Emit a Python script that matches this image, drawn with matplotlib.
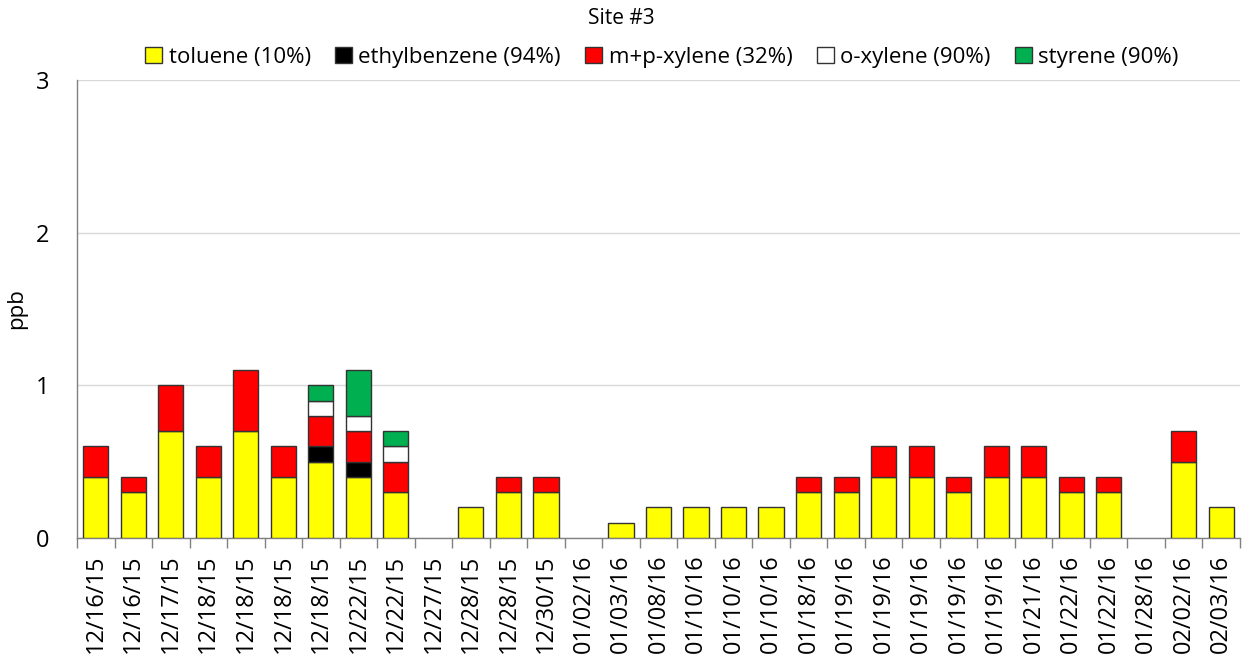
import matplotlib
matplotlib.use("Agg")
import matplotlib.pyplot as plt
import numpy as np

dates = ["12/16/15", "12/16/15", "12/17/15", "12/18/15", "12/18/15", "12/18/15", "12/18/15",
         "12/22/15", "12/22/15", "12/27/15", "12/28/15", "12/28/15", "12/30/15", "01/02/16",
         "01/03/16", "01/08/16", "01/10/16", "01/10/16", "01/10/16", "01/18/16", "01/19/16",
         "01/19/16", "01/19/16", "01/19/16", "01/19/16", "01/21/16", "01/22/16", "01/22/16",
         "01/28/16", "02/02/16", "02/03/16"]
toluene = [0.4, 0.3, 0.7, 0.4, 0.7, 0.4, 0.5, 0.4, 0.3, 0, 0.2, 0.3, 0.3, 0, 0.1, 0.2,
           0.2, 0.2, 0.2, 0.3, 0.3, 0.4, 0.4, 0.3, 0.4, 0.4, 0.3, 0.3, 0, 0.5, 0.2]
ethylbenzene = [0, 0, 0, 0, 0, 0, 0.1, 0.1, 0, 0, 0, 0, 0, 0, 0, 0,
                0, 0, 0, 0, 0, 0, 0, 0, 0, 0, 0, 0, 0, 0, 0]
mp_xylene = [0.2, 0.1, 0.3, 0.2, 0.4, 0.2, 0.2, 0.2, 0.2, 0, 0, 0.1, 0.1, 0, 0, 0,
             0, 0, 0, 0.1, 0.1, 0.2, 0.2, 0.1, 0.2, 0.2, 0.1, 0.1, 0, 0.2, 0]
o_xylene = [0, 0, 0, 0, 0, 0, 0.1, 0.1, 0.1, 0, 0, 0, 0, 0, 0, 0,
            0, 0, 0, 0, 0, 0, 0, 0, 0, 0, 0, 0, 0, 0, 0]
styrene = [0, 0, 0, 0, 0, 0, 0.1, 0.3, 0.1, 0, 0, 0, 0, 0, 0, 0,
           0, 0, 0, 0, 0, 0, 0, 0, 0, 0, 0, 0, 0, 0, 0]

series = [
    ("toluene (10%)", toluene, "#FFFF00"),
    ("ethylbenzene (94%)", ethylbenzene, "#000000"),
    ("m+p-xylene (32%)", mp_xylene, "#FF0000"),
    ("o-xylene (90%)", o_xylene, "#FFFFFF"),
    ("styrene (90%)", styrene, "#00B050"),
]

plt.rcParams['font.family'] = ['Open Sans', 'DejaVu Sans']

fig = plt.figure(figsize=(12.43, 6.58), dpi=100)
ax = fig.add_axes([77/1243, 1-538/658, (1240-77)/1243, (538-80)/658])

x = np.arange(len(dates))
bottom = np.zeros(len(dates))
handles = []
for name, vals, col in series:
    v = np.array(vals, dtype=float)
    mask = v > 0
    h = ax.bar(x[mask], v[mask], bottom=bottom[mask], width=0.67, color=col,
               edgecolor="#333333", linewidth=1.0, label=name, zorder=3)
    handles.append(h)
    bottom += v

ax.set_xlim(-0.5, len(dates) - 0.5)
ax.set_ylim(0, 3)
ax.set_yticks([0, 1, 2, 3])
ax.set_yticklabels(["0", "1", "2", "3"], fontsize=17)
ax.tick_params(axis='y', which='major', length=0, pad=20)
ax.yaxis.grid(True, color="#D9D9D9", linewidth=1, zorder=0)
ax.set_axisbelow(True)

ax.set_xticks(x)
ax.set_xticklabels(dates, rotation=90, fontsize=17)
ax.tick_params(axis='x', which='major', length=0, pad=12)
ax.set_xticks(np.arange(-0.5, len(dates), 1.0), minor=True)
ax.tick_params(axis='x', which='minor', length=7, color="#808080", width=1)

for s in ['top', 'right']:
    ax.spines[s].set_visible(False)
for s in ['left', 'bottom']:
    ax.spines[s].set_color("#808080")
    ax.spines[s].set_linewidth(1)

ax.set_ylabel("ppb", fontsize=16, labelpad=6)

fig.text(0.5, 1 - 18/658, "Site #3", ha='center', va='center', fontsize=15)
fig.legend(handles=handles, loc='center', bbox_to_anchor=(662/1243, 1 - 57/658), ncol=5,
           frameon=False, fontsize=16, handlelength=0.75, handleheight=0.75,
           handletextpad=0.3, columnspacing=1.1)

fig.savefig("out.png", dpi=100)
